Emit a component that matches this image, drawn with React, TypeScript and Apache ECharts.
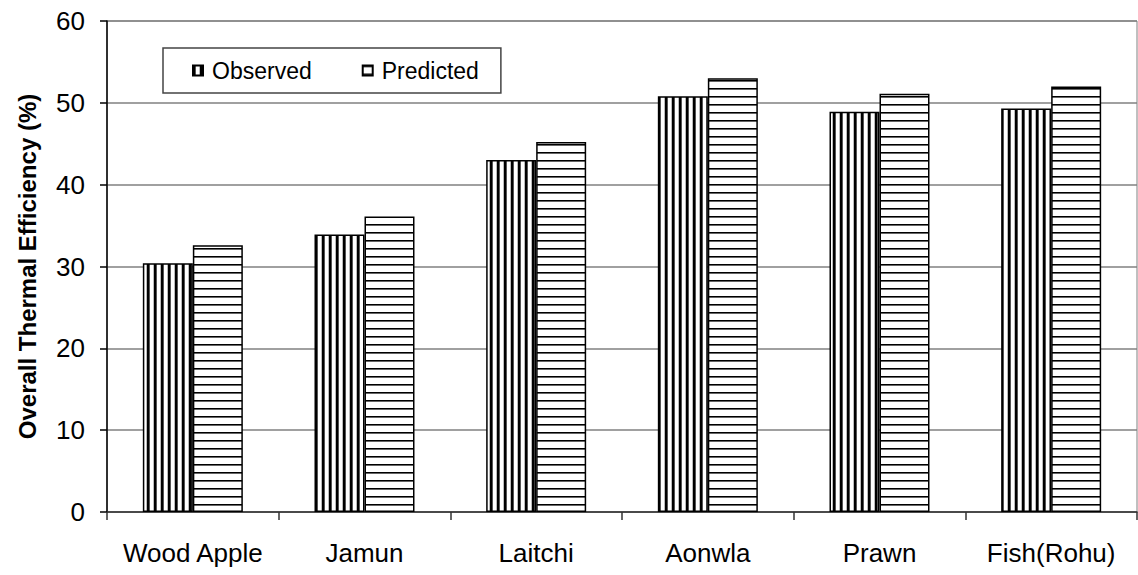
import React, { useEffect, useRef } from "react";
import * as echarts from "echarts";

const categories = ["Wood Apple", "Jamun", "Laitchi", "Aonwla", "Prawn", "Fish(Rohu)"];
const observed = [30.4, 33.9, 43.0, 50.8, 48.9, 49.3];
const predicted = [32.6, 36.1, 45.2, 53.0, 51.1, 52.0];
const seriesNames = ["Observed", "Predicted"];
const yMin = 0;
const yMax = 60;
const yStep = 10;

const FONT = "Liberation Sans, Arial, sans-serif";

function makePattern(vertical: boolean) {
  const c = document.createElement("canvas");
  if (vertical) {
    c.width = 7;
    c.height = 4;
  } else {
    c.width = 4;
    c.height = 8;
  }
  const ctx = c.getContext("2d")!;
  ctx.fillStyle = "#fff";
  ctx.fillRect(0, 0, c.width, c.height);
  if (vertical) {
    ctx.fillStyle = "#000";
    ctx.fillRect(0, 0, 2, c.height);
    ctx.fillStyle = "#555";
    ctx.fillRect(2, 0, 1, c.height);
    ctx.fillStyle = "#bbb";
    ctx.fillRect(6, 0, 1, c.height);
  } else {
    ctx.fillStyle = "#000";
    ctx.fillRect(0, 0, c.width, 1);
    ctx.fillStyle = "#666";
    ctx.fillRect(0, 1, c.width, 1);
  }
  return {
    image: c.toDataURL(),
    repeat: "repeat",
    imageWidth: c.width,
    imageHeight: c.height,
  };
}

export default function App() {
  const ref = useRef<HTMLDivElement>(null);
  useEffect(() => {
    if (!ref.current) return;
    const chart = echarts.init(ref.current, undefined, { renderer: "svg" });
    const vPat = makePattern(true);
    const hPat = makePattern(false);
    chart.setOption({
      animation: false,
      backgroundColor: "#fff",
      grid: {
        left: 107,
        right: 1,
        top: 21,
        bottom: 63,
        outerBoundsMode: "none",
        containLabel: false,
        show: true,
        borderColor: "#808080",
        borderWidth: 1,
        backgroundColor: "transparent",
      },
      legend: {
        left: 163,
        top: 48,
        orient: "horizontal",
        padding: [11, 22, 11, 29],
        itemGap: 50,
        itemWidth: 10,
        itemHeight: 10,
        icon: "rect",
        borderColor: "#444",
        borderWidth: 1.5,
        backgroundColor: "#fff",
        textStyle: { fontFamily: FONT, fontSize: 23, color: "#000", padding: [0, 0, 0, 4] },
        data: seriesNames,
      },
      xAxis: {
        type: "category",
        data: categories,
        boundaryGap: true,
        axisLine: { show: true, lineStyle: { color: "#333", width: 1.5 } },
        axisTick: { show: true, length: 8, interval: 0, lineStyle: { color: "#333", width: 1.5 } },
        axisLabel: { interval: 0, margin: 28, fontFamily: FONT, fontSize: 26, color: "#000" },
        splitLine: { show: false },
      },
      yAxis: {
        type: "value",
        min: yMin,
        max: yMax,
        interval: yStep,
        name: "Overall Thermal Efficiency (%)",
        nameLocation: "middle",
        nameGap: 68,
        nameTextStyle: { fontFamily: FONT, fontSize: 24, fontWeight: "bold", color: "#000" },
        axisLine: { show: true, lineStyle: { color: "#000", width: 1.5 } },
        axisTick: { show: true, length: 7, lineStyle: { color: "#000", width: 1.5 } },
        axisLabel: { margin: 22, fontFamily: FONT, fontSize: 26, color: "#000" },
        splitLine: { show: true, lineStyle: { color: "#808080", width: 1.5 } },
      },
      series: [
        {
          name: seriesNames[0],
          type: "bar",
          data: observed,
          barWidth: 50,
          barGap: "0%",
          itemStyle: { color: vPat, borderColor: "#000", borderWidth: 1.5 },
        },
        {
          name: seriesNames[1],
          type: "bar",
          data: predicted,
          barWidth: 50,
          barGap: "0%",
          itemStyle: { color: hPat, borderColor: "#000", borderWidth: 1.5 },
        },
      ],
    });
    return () => chart.dispose();
  }, []);
  return (
    <div
      ref={ref}
      style={{ position: "absolute", left: 0, top: 0, width: 1138, height: 575 }}
    />
  );
}
